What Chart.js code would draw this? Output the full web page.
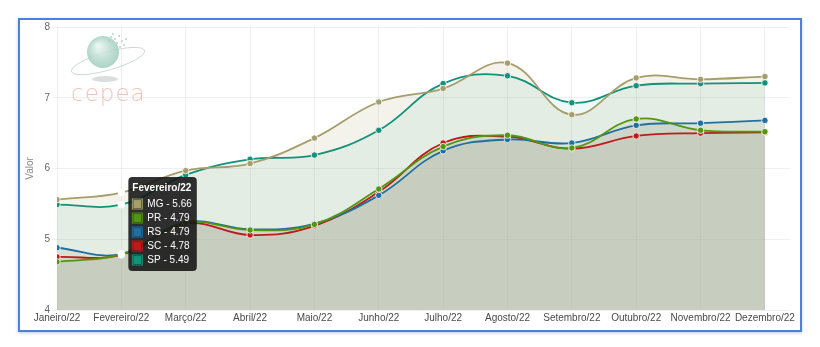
<!DOCTYPE html>
<html>
<head>
<meta charset="utf-8">
<script src="https://cdn.jsdelivr.net/npm/chart.js@4/dist/chart.umd.min.js"></script>
<style>
  html, body { margin: 0; padding: 0; background: #fff; }
  #frame {
    position: absolute; left: 18px; top: 18px; width: 780px; height: 310px;
    border: 2px solid #4f80d8; box-shadow: 0 1px 3px rgba(60,100,180,0.35);
  }
  #wrap { position: absolute; left: 0; top: 0; width: 820px; height: 347px; }
</style>
</head>
<body>
<div id="frame"></div>
<div id="wrap"><canvas id="c" width="820" height="347"></canvas></div>
<script>
// Monthly prices per state, 2022
const months = ['Janeiro/22', 'Fevereiro/22', 'Março/22', 'Abril/22', 'Maio/22', 'Junho/22',
                'Julho/22', 'Agosto/22', 'Setembro/22', 'Outubro/22', 'Novembro/22', 'Dezembro/22'];
const seriesMG = [5.56, 5.66, 5.97, 6.07, 6.43, 6.94, 7.13, 7.49, 6.76, 7.28, 7.26, 7.30];
const seriesPR = [4.68, 4.79, 5.23, 5.13, 5.21, 5.71, 6.31, 6.47, 6.29, 6.70, 6.54, 6.52];
const seriesRS = [4.88, 4.79, 5.24, 5.14, 5.22, 5.62, 6.25, 6.41, 6.36, 6.61, 6.64, 6.68];
const seriesSC = [4.75, 4.78, 5.22, 5.06, 5.19, 5.67, 6.36, 6.45, 6.28, 6.46, 6.50, 6.51];
const seriesSP = [5.49, 5.49, 5.91, 6.13, 6.19, 6.54, 7.20, 7.31, 6.93, 7.17, 7.20, 7.21];
const yTicks = [4, 5, 6, 7, 8];
const highlightedMonth = 1;

const toPoints = arr => arr.map((v, i) => ({ x: i, y: v }));

function series(label, values, color, fill) {
  return {
    label,
    data: toPoints(values),
    borderColor: color,
    backgroundColor: fill,
    fill: 'origin',
    borderWidth: 1.8,
    tension: 0.4,
    pointRadius: 3.2,
    pointBackgroundColor: color,
    pointBorderColor: 'rgba(255,255,255,0.8)',
    pointBorderWidth: 1,
    pointHoverRadius: 3.4,
    pointHoverBackgroundColor: '#ffffff',
    pointHoverBorderColor: 'rgba(255,255,255,0.9)',
    pointHoverBorderWidth: 1
  };
}

// faint CEPEA watermark behind the plot
const watermark = {
  id: 'watermark',
  beforeDatasetsDraw(chart) {
    const ctx = chart.ctx;
    ctx.save();
    // shadow under the globe
    ctx.fillStyle = 'rgba(150,160,155,0.35)';
    ctx.beginPath(); ctx.ellipse(105, 79, 13, 3, 0, 0, Math.PI * 2); ctx.fill();
    // orbit
    ctx.strokeStyle = 'rgba(160,185,175,0.55)';
    ctx.lineWidth = 1;
    ctx.beginPath(); ctx.ellipse(108, 61, 38, 9, -0.28, 0, Math.PI * 2); ctx.stroke();
    // globe
    const g = ctx.createRadialGradient(98, 46, 2, 103, 52, 17);
    g.addColorStop(0, 'rgba(230,243,238,0.95)');
    g.addColorStop(1, 'rgba(150,200,182,0.8)');
    ctx.fillStyle = g;
    ctx.beginPath(); ctx.arc(103, 52, 16, 0, Math.PI * 2); ctx.fill();
    // scattered pixels
    ctx.fillStyle = 'rgba(170,200,190,0.6)';
    const dots = [[110,36],[114,38],[118,35],[121,40],[116,42],[112,33],[123,44],[119,46],[108,40],[125,38]];
    dots.forEach(d => ctx.fillRect(d[0], d[1], 2, 2));
    // wordmark
    ctx.fillStyle = 'rgba(236,175,165,0.75)';
    ctx.font = '300 23px "DejaVu Sans", sans-serif';
    ctx.textBaseline = 'alphabetic';
    if ('letterSpacing' in ctx) ctx.letterSpacing = '1px';
    ctx.fillText('cepea', 71, 101);
    ctx.restore();
  }
};

Chart.defaults.font.family = "'Liberation Sans', Arial, sans-serif";
Chart.defaults.animation = false;

const Tooltip = Chart.Tooltip;
Tooltip.positioners.raised = function (elements, pos) {
  const p = Tooltip.positioners.average.call(this, elements, pos);
  if (!p) return p;
  return { x: p.x, y: p.y - 8 };
};

const chart = new Chart(document.getElementById('c'), {
  type: 'line',
  data: {
    datasets: [
      series('MG', seriesMG, '#a59d6c', 'rgba(166,159,110,0.13)'),
      series('PR', seriesPR, '#52950f', 'rgba(150,150,130,0.145)'),
      series('RS', seriesRS, '#1f6f9f', 'rgba(150,150,130,0.145)'),
      series('SC', seriesSC, '#be1a1c', 'rgba(150,150,130,0.145)'),
      series('SP', seriesSP, '#13917a', 'rgba(17,149,122,0.07)')
    ]
  },
  options: {
    responsive: false,
    events: [],
    layout: { padding: { left: 18, top: 27, right: 30, bottom: 17 } },
    scales: {
      x: {
        type: 'linear',
        min: 0,
        max: months.length - 1 + 0.39,
        afterBuildTicks(scale) {
          scale.ticks = months.map((m, i) => ({ value: i }));
        },
        afterFit(scale) { scale.height = 20; },
        ticks: {
          callback: (v) => months[v],
          color: '#4a4a4a',
          font: { size: 10, family: "'Liberation Sans Narrow', 'Liberation Sans', Arial, sans-serif" },
          padding: 2,
          maxRotation: 0,
          autoSkip: false
        },
        grid: { color: 'rgba(0,0,0,0.06)', tickLength: 4, drawTicks: false },
        border: { display: false }
      },
      y: {
        min: 4,
        max: 8,
        afterBuildTicks(scale) {
          scale.ticks = yTicks.map(v => ({ value: v }));
        },
        afterFit(scale) { scale.width = 39; },
        title: { display: true, text: 'Valor', color: '#888', font: { size: 10 }, padding: { top: 6, bottom: 0 } },
        ticks: { color: '#666', font: { size: 10 }, padding: 2 },
        grid: { color: 'rgba(0,0,0,0.06)', tickLength: 5 },
        border: { display: false }
      }
    },
    plugins: {
      legend: { display: false },
      filler: { drawTime: 'beforeDatasetsDraw' },
      tooltip: {
        enabled: true,
        mode: 'index',
        intersect: false,
        position: 'raised',
        xAlign: 'left',
        yAlign: 'center',
        caretSize: 0,
        caretPadding: 7,
        backgroundColor: 'rgba(20,20,20,0.88)',
        cornerRadius: 4,
        padding: { top: 5, bottom: 5, left: 4, right: 5 },
        titleFont: { size: 10, weight: 'bold' },
        titleMarginBottom: 4,
        bodyFont: { size: 10 },
        bodySpacing: 2,
        boxWidth: 10,
        boxHeight: 10,
        boxPadding: 3,
        multiKeyBackground: 'rgba(0,0,0,0)',
        displayColors: true,
        callbacks: {
          title: (items) => months[items[0].dataIndex],
          label: (item) => item.dataset.label + ' - ' + item.parsed.y.toFixed(2),
          labelColor: (item) => ({
            borderColor: item.dataset.borderColor,
            backgroundColor: item.dataset.borderColor,
            borderWidth: 1
          })
        }
      }
    }
  },
  plugins: [watermark]
});

// highlight one month with its tooltip
const active = chart.data.datasets.map((d, i) => ({ datasetIndex: i, index: highlightedMonth }));
chart.setActiveElements(active);
const el = chart.getDatasetMeta(0).data[highlightedMonth];
chart.tooltip.setActiveElements(active, { x: el.x, y: el.y });
chart.update();
</script>
</body>
</html>
